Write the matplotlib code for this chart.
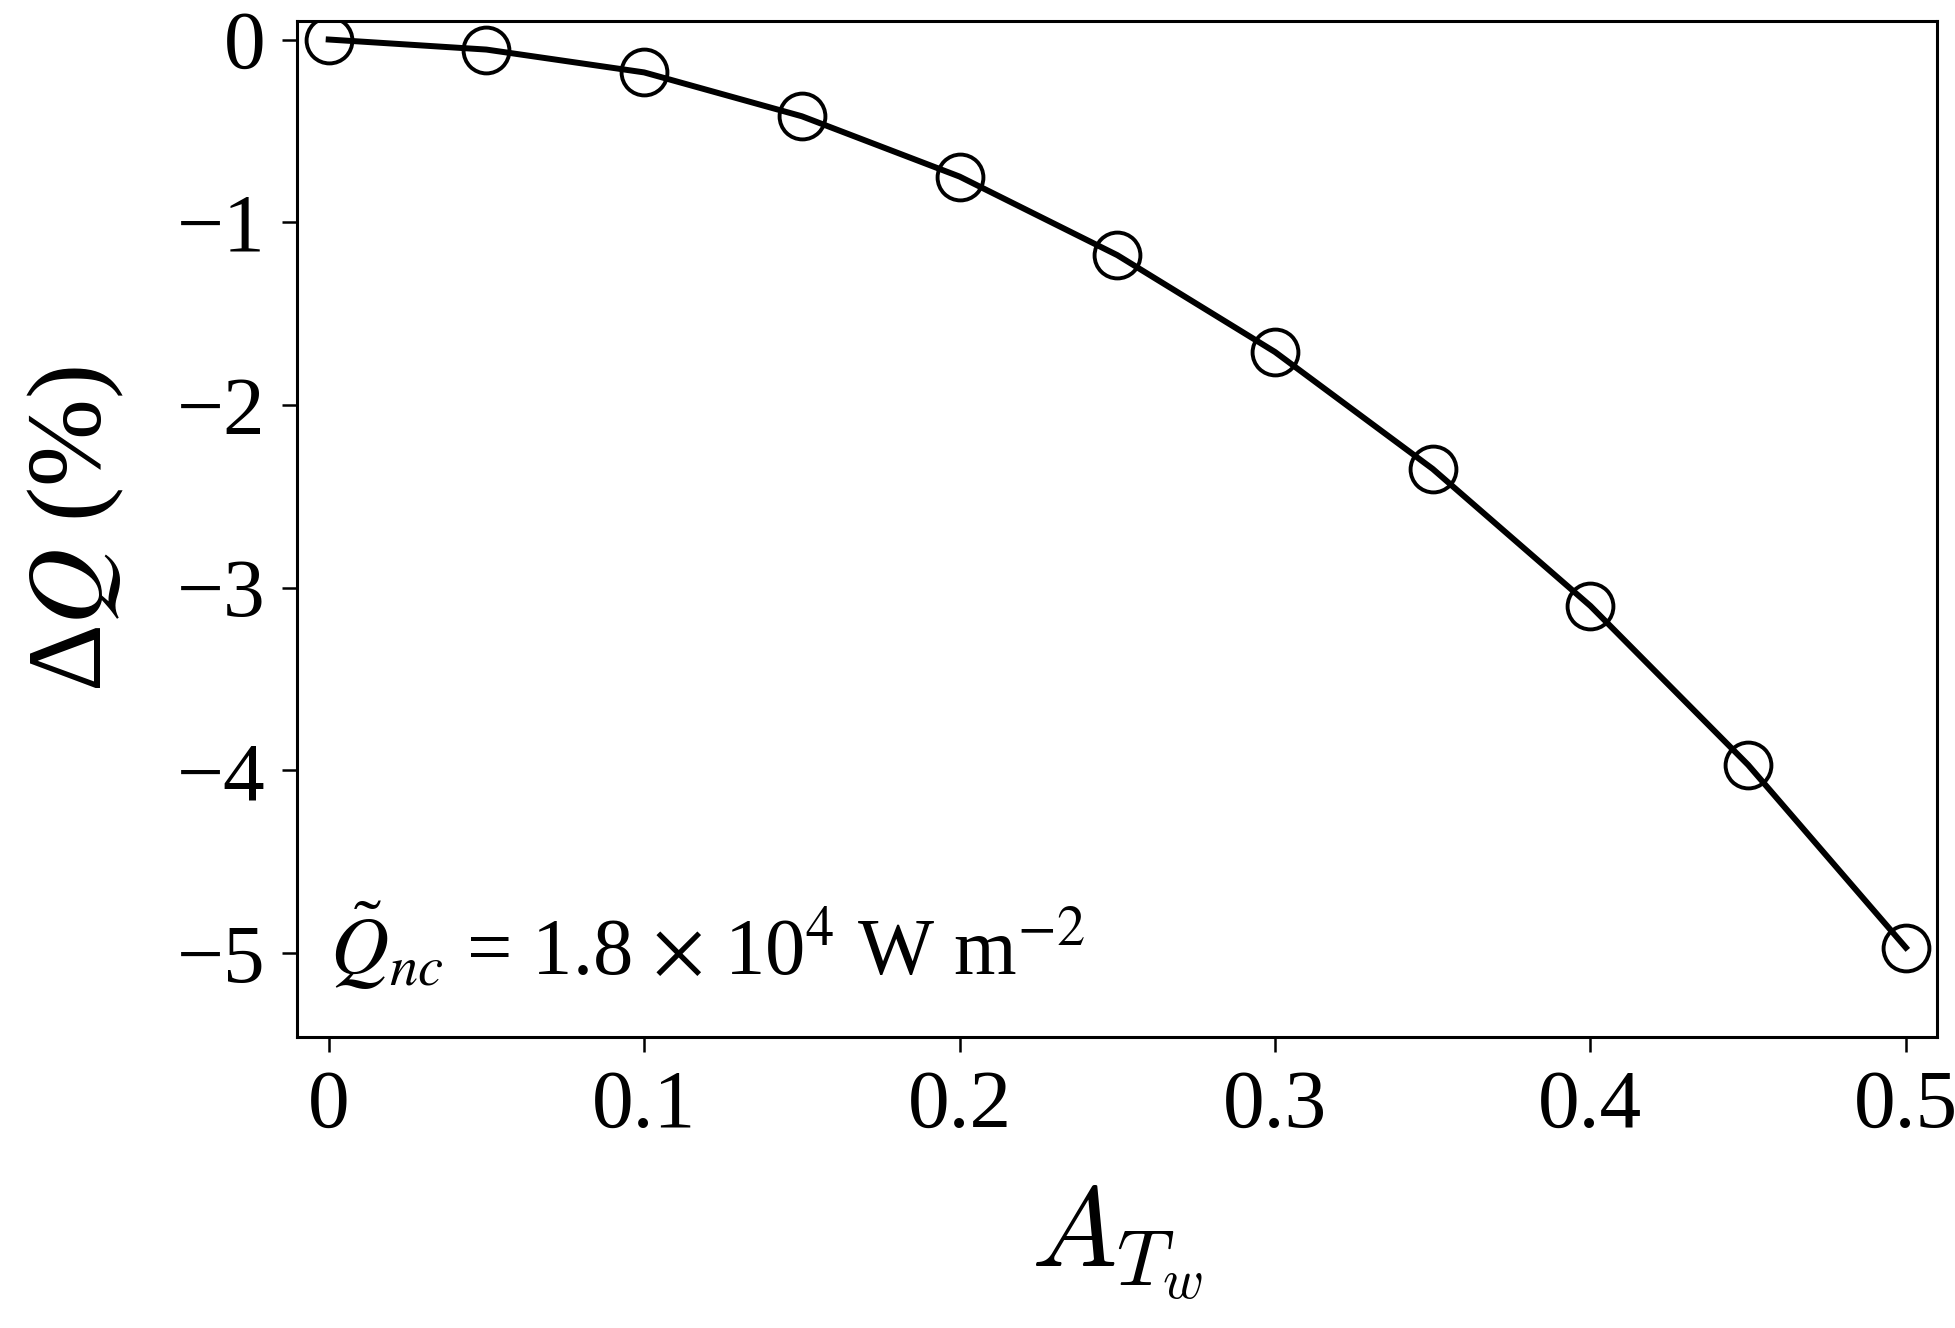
import numpy as np
import matplotlib
matplotlib.use("Agg")
import matplotlib.pyplot as plt

# valeurs
A_Tw = [0.0, 0.05, 0.1, 0.15, 0.2, 0.25, 0.3, 0.35, 0.4, 0.45, 0.5]
dQ = [0.0, -0.055, -0.18, -0.42, -0.75, -1.18, -1.71, -2.35, -3.10, -3.97, -4.97]
xticks = [0, 0.1, 0.2, 0.3, 0.4, 0.5]
xticklabels = ["0", "0.1", "0.2", "0.3", "0.4", "0.5"]
yticks = [0, -1, -2, -3, -4, -5]
yticklabels = ["0", "\u22121", "\u22122", "\u22123", "\u22124", "\u22125"]

plt.rcParams["font.family"] = ["Liberation Serif", "DejaVu Serif"]
plt.rcParams["mathtext.fontset"] = "stix"

fig = plt.figure(figsize=(19.55, 13.28), dpi=100)
ax = fig.add_axes([0.152, 0.219, 0.839, 0.765])

ax.plot(A_Tw, dQ, color="black", lw=4.3, zorder=2)
ax.plot(A_Tw, dQ, ls="none", marker="o", ms=33, mfc="none", mec="black", mew=2.8, zorder=3)

ax.set_xlim(-0.01, 0.51)
ax.set_ylim(-5.46, 0.1)
ax.set_xticks(xticks)
ax.set_xticklabels(xticklabels)
ax.set_yticks(yticks)
ax.set_yticklabels(yticklabels)
ax.tick_params(direction="out", length=11, width=1.8, labelsize=60, pad=12)
for s in ax.spines.values():
    s.set_linewidth(2.2)

ax.set_xlabel(r"$A_{T_w}$", fontsize=82, labelpad=28, math_fontfamily="cm")
ax.set_ylabel("\u0394$Q$ (%)", fontsize=76, labelpad=36)

ax.text(0.02, 0.09, r"$\tilde{Q}_{nc}$ = 1.8 $\times$ 10$^{4}$ W m$^{-2}$",
        transform=ax.transAxes, fontsize=58, ha="left", va="center")

fig.savefig("out.png", dpi=100)
